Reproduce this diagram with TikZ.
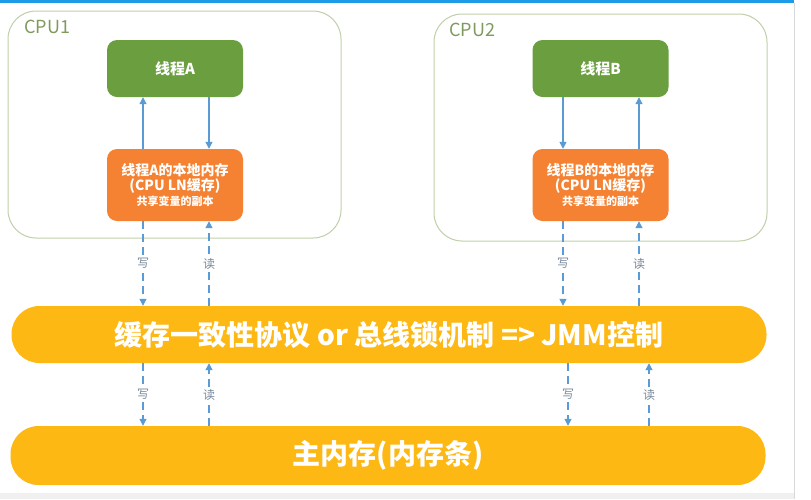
\documentclass[tikz,border=0pt]{standalone}
\usepackage{fontspec}
\setmainfont{Noto Sans CJK SC}
\usetikzlibrary{arrows.meta}
\definecolor{cpuline}{HTML}{BFD0A8}
\definecolor{cputext}{HTML}{7F9A5E}
\definecolor{thgreen}{HTML}{6A9E3F}
\definecolor{memorange}{HTML}{F58232}
\definecolor{busyellow}{HTML}{FDB813}
\definecolor{arrowblue}{HTML}{5B9BD5}
\definecolor{lbltext}{HTML}{7A8A9A}
\definecolor{topbar}{HTML}{1E9BE6}
\tikzset{
  x=1pt,y=-1pt,
  cpubox/.style={draw=cpuline,line width=1pt,rounded corners=28pt,minimum width=#1,minimum height=227pt,inner sep=0pt},
  thbox/.style={fill=thgreen,rounded corners=10pt,minimum width=136pt,minimum height=57pt,text=white,font=\bfseries\fontsize{15}{18}\selectfont},
  membox/.style={fill=memorange,rounded corners=10pt,minimum width=136pt,minimum height=72pt,text=white,align=center,inner sep=0pt},
  barbox/.style={fill=busyellow,rounded corners=28pt,minimum width=755pt,text=white,font=\bfseries\fontsize{28}{32}\selectfont},
  solidarr/.style={draw=arrowblue,line width=1.2pt,-{Triangle[length=7pt,width=7pt]}},
  dasharr/.style={draw=arrowblue,line width=1.2pt,dash pattern=on 8pt off 5pt,-{Triangle[length=7pt,width=7pt]}},
  rwlabel/.style={fill=white,text=lbltext,font=\fontsize{12}{13}\selectfont,inner sep=1.5pt},
  cpulabel/.style={text=cputext,font=\fontsize{18}{20}\selectfont,anchor=west,inner sep=0pt}
}
\begin{document}
\begin{tikzpicture}
\useasboundingbox[fill=white] (0,0) rectangle (811,499);
% screenshot frame
\fill[topbar] (0,0) rectangle (794,3);
\fill[gray!12] (0,493) rectangle (794,499);
\draw[gray!30,line width=1pt] (794,3) -- (794,499);
% CPU boxes
\node[cpubox=333pt] (cpu1) at (174.5,124.5) {};
\node[cpulabel] (cpu1l) at (24,27) {CPU1};
\node[cpubox=333pt] (cpu2) at (600.5,127.5) {};
\node[cpulabel] (cpu2l) at (449,30) {CPU2};
% threads
\node[thbox] (tha) at (175,68.5) {线程A};
\node[thbox] (thb) at (600.5,68.5) {线程B};
% local memories
\node[membox] (mema) at (175,185) {\bfseries\fontsize{14}{18}\selectfont 线程A的本地内存\\[1pt]\bfseries\fontsize{14}{18}\selectfont (CPU LN缓存)\\[1pt]\bfseries\fontsize{11}{13}\selectfont 共享变量的副本};
\node[membox] (memb) at (600.5,185) {\bfseries\fontsize{14}{18}\selectfont 线程B的本地内存\\[1pt]\bfseries\fontsize{14}{18}\selectfont (CPU LN缓存)\\[1pt]\bfseries\fontsize{11}{13}\selectfont 共享变量的副本};
% bus and main memory
\node[barbox,minimum height=57pt] (bus) at (389,334.5) {缓存一致性协议 or 总线锁机制 => JMM控制};
\node[barbox,minimum height=59pt] (mainmem) at (388,455.5) {主内存(内存条)};
% x positions of connectors
\coordinate (a1) at (143,0); \coordinate (a2) at (209,0);
\coordinate (b1) at (563,0); \coordinate (b2) at (639,0);
\coordinate (c1) at (143,0); \coordinate (c2) at (209,0);
\coordinate (c3) at (568,0); \coordinate (c4) at (649,0);
% solid arrows inside CPUs
\draw[solidarr] (mema.north -| a1) -- (tha.south -| a1);
\draw[solidarr] (tha.south -| a2) -- (mema.north -| a2);
\draw[solidarr] (thb.south -| b1) -- (memb.north -| b1);
\draw[solidarr] (memb.north -| b2) -- (thb.south -| b2);
% dashed arrows between local memory and bus
\draw[dasharr] (mema.south -| a1) -- node[rwlabel,pos=0.5] (wa1) {写} (bus.north -| a1);
\draw[dasharr] (bus.north -| a2) -- node[rwlabel,pos=0.5] (ra1) {读} (mema.south -| a2);
\draw[dasharr] (memb.south -| b1) -- node[rwlabel,pos=0.5] (wb1) {写} (bus.north -| b1);
\draw[dasharr] (bus.north -| b2) -- node[rwlabel,pos=0.5] (rb1) {读} (memb.south -| b2);
% dashed arrows between bus and main memory
\draw[dasharr] (bus.south -| c1) -- node[rwlabel,pos=0.5] (wa2) {写} (mainmem.north -| c1);
\draw[dasharr] (mainmem.north -| c2) -- node[rwlabel,pos=0.5] (ra2) {读} (bus.south -| c2);
\draw[dasharr] (bus.south -| c3) -- node[rwlabel,pos=0.5] (wb2) {写} (mainmem.north -| c3);
\draw[dasharr] (mainmem.north -| c4) -- node[rwlabel,pos=0.5] (rb2) {读} (bus.south -| c4);
\end{tikzpicture}
\end{document}
